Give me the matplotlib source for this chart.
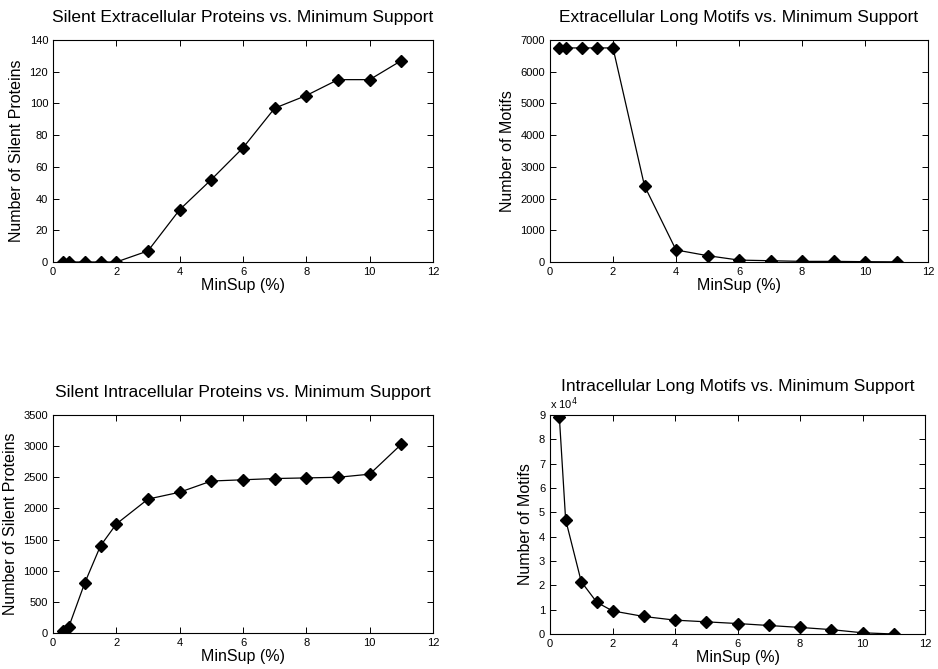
import matplotlib
matplotlib.use("Agg")
import matplotlib.pyplot as plt
from matplotlib.ticker import FuncFormatter

plt.rcParams['font.family'] = ['Liberation Sans', 'DejaVu Sans']

# minimum support values (%)
minsup = [0.3, 0.5, 1, 1.5, 2, 3, 4, 5, 6, 7, 8, 9, 10, 11]

silent_extra = [0, 0, 0, 0, 0, 7, 33, 52, 72, 97, 105, 115, 115, 127]
motifs_extra = [6750, 6750, 6750, 6750, 6750, 2400, 380, 200, 60, 40, 20, 20, 10, 5]
silent_intra = [30, 100, 800, 1400, 1750, 2150, 2260, 2440, 2460, 2480, 2490, 2500, 2550, 3030]
motifs_intra = [89000, 47000, 21500, 13000, 9500, 7200, 5700, 5000, 4300, 3500, 2700, 1800, 500, 0]

fig = plt.figure(figsize=(9.38, 6.69), dpi=100)
W, H = 938, 669


def make_axes(left, top, right, bottom):
    return fig.add_axes([left / W, 1 - bottom / H, (right - left) / W, (bottom - top) / H])


def draw(ax, y, title, ylabel, ylim, yticks, pad=13):
    ax.plot(minsup, y, color='black', lw=0.9, marker='D', ms=6,
            mfc='black', mec='black')
    ax.set_xlim(0, 12)
    ax.set_xticks(range(0, 13, 2))
    ax.set_ylim(*ylim)
    ax.set_yticks(yticks)
    ax.tick_params(direction='in', top=True, right=True, labelsize=8, length=4, width=0.7)
    for s in ax.spines.values():
        s.set_linewidth(0.8)
    ax.set_title(title, fontsize=12.5, y=1.0, pad=pad)
    ax.set_xlabel('MinSup (%)', fontsize=11.5, labelpad=1)
    ax.set_ylabel(ylabel, fontsize=11.5, labelpad=4)


ax1 = make_axes(53, 40, 433, 262)
draw(ax1, silent_extra, 'Silent Extracellular Proteins vs. Minimum Support',
     'Number of Silent Proteins', (0, 140), range(0, 141, 20))

ax2 = make_axes(550, 40, 928, 262)
draw(ax2, motifs_extra, 'Extracellular Long Motifs vs. Minimum Support',
     'Number of Motifs', (0, 7000), range(0, 7001, 1000))

ax3 = make_axes(53, 415, 433, 633)
draw(ax3, silent_intra, 'Silent Intracellular Proteins vs. Minimum Support',
     'Number of Silent Proteins', (0, 3500), range(0, 3501, 500))

ax4 = make_axes(550, 415, 925, 634)
draw(ax4, motifs_intra, 'Intracellular Long Motifs vs. Minimum Support',
     'Number of Motifs', (0, 90000), range(0, 90001, 10000), pad=17)
ax4.yaxis.set_major_formatter(FuncFormatter(lambda v, p: '%d' % round(v / 1e4)))
ax4.text(0.0, 1.015, r'x 10$^4$', transform=ax4.transAxes, fontsize=8,
         ha='left', va='bottom')

fig.savefig('out.png', dpi=100)
